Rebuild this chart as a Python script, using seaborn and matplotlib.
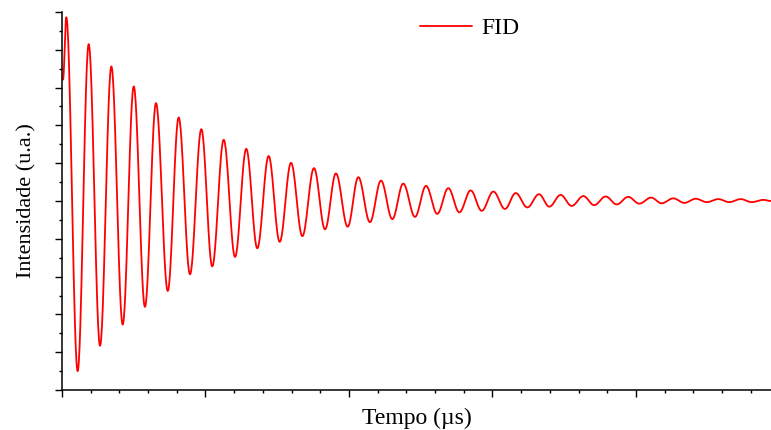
import numpy as np
import pandas as pd
import matplotlib
matplotlib.use("Agg")
import matplotlib.pyplot as plt
from matplotlib.ticker import MultipleLocator, NullFormatter
import seaborn as sns

# turning points of the FID signal (time in us, intensity in a.u.)
tempo = [0.007, 0.030, 0.109, 0.186, 0.265, 0.344, 0.423, 0.500, 0.578, 0.655,
         0.737, 0.813, 0.892, 0.971, 1.047, 1.127, 1.206, 1.284, 1.361, 1.440,
         1.517, 1.596, 1.675, 1.756, 1.833, 1.909, 1.991, 2.065, 2.146, 2.223,
         2.302, 2.378, 2.460, 2.537, 2.615, 2.692, 2.769, 2.848, 2.925, 3.006,
         3.087, 3.162, 3.243, 3.324, 3.396, 3.475, 3.552, 3.633, 3.709, 3.789,
         3.866, 3.946, 4.023, 4.105, 4.179, 4.260, 4.337, 4.416, 4.493, 4.574,
         4.650, 4.730, 4.806, 4.887, 4.941]
intensidade = [3.21, 4.86, -4.50, 4.15, -3.83, 3.56, -3.27, 3.03, -2.80, 2.59,
               -2.38, 2.21, -1.94, 1.90, -1.73, 1.62, -1.48, 1.38, -1.25, 1.19,
               -1.08, 1.01, -0.93, 0.87, -0.75, 0.73, -0.68, 0.63, -0.56, 0.54,
               -0.48, 0.46, -0.42, 0.40, -0.34, 0.34, -0.30, 0.28, -0.26, 0.25,
               -0.21, 0.21, -0.17, 0.18, -0.15, 0.16, -0.13, 0.13, -0.11, 0.12,
               -0.09, 0.11, -0.07, 0.09, -0.06, 0.07, -0.05, 0.06, -0.03, 0.05,
               -0.03, 0.05, -0.03, 0.03, 0.00]

# smooth half-cosine swing between each pair of turning points
xs, ys = [], []
s = np.linspace(0, 1, 30)
for i in range(len(tempo) - 1):
    t0, t1 = tempo[i], tempo[i + 1]
    v0, v1 = intensidade[i], intensidade[i + 1]
    xs.extend(t0 + (t1 - t0) * s[:-1])
    ys.extend(v0 + (v1 - v0) * (1 - np.cos(np.pi * s[:-1])) / 2)
xs.append(tempo[-1])
ys.append(intensidade[-1])
df = pd.DataFrame({"t": xs, "I": ys})

sns.set_style("ticks")
plt.rcParams["font.family"] = ["Liberation Serif", "DejaVu Serif"]
plt.rcParams["text.color"] = "black"
plt.rcParams["axes.labelcolor"] = "black"

fig = plt.figure(figsize=(7.71, 4.30), dpi=100)
ax = fig.add_axes([62 / 771, 40 / 430, 709 / 771, 378 / 430])

sns.lineplot(data=df, x="t", y="I", color="red", linewidth=1.3, label="FID",
             sort=False, estimator=None, ax=ax)

ax.set_xlim(0, 4.941)
ax.set_ylim(-5, 5)
ax.xaxis.set_major_locator(MultipleLocator(1))
ax.xaxis.set_minor_locator(MultipleLocator(0.2))
ax.yaxis.set_major_locator(MultipleLocator(1))
ax.yaxis.set_minor_locator(MultipleLocator(0.5))
ax.xaxis.set_major_formatter(NullFormatter())
ax.yaxis.set_major_formatter(NullFormatter())
ax.tick_params(which="major", direction="out", length=5, width=1, color="black")
ax.tick_params(which="minor", direction="out", length=2.5, width=1, color="black")
for side in ["left", "bottom"]:
    ax.spines[side].set_linewidth(1.1)
    ax.spines[side].set_color("black")
sns.despine(ax=ax)

ax.set_xlabel("Tempo (µs)", fontsize=17, labelpad=4)
ax.set_ylabel("Intensidade (u.a.)", fontsize=16, labelpad=10)

leg = ax.legend(loc="center left", bbox_to_anchor=(420 / 771, 1 - 28 / 430),
                bbox_transform=fig.transFigure, frameon=False, fontsize=17,
                handlelength=2.2, handletextpad=0.4, borderpad=0, borderaxespad=0)

fig.savefig("out.png", dpi=100)
